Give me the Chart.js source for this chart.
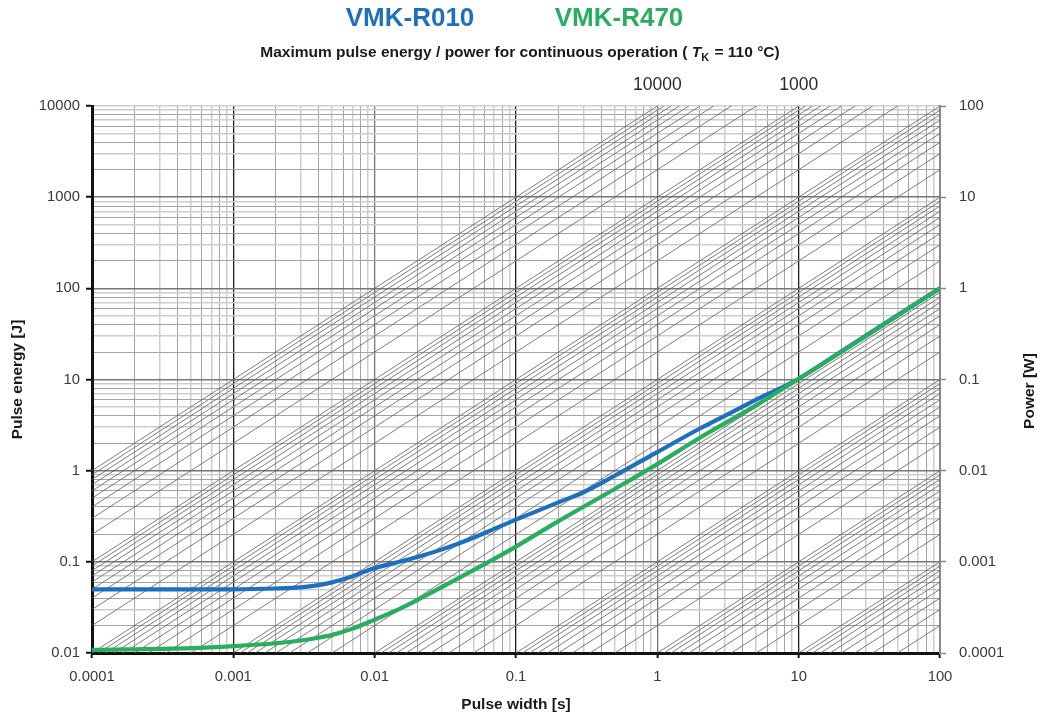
<!DOCTYPE html>
<html>
<head>
<meta charset="utf-8">
<script src="https://cdn.jsdelivr.net/npm/chart.js@4.4.1/dist/chart.umd.min.js"></script>
<style>
html, body { margin: 0; padding: 0; background: #ffffff; }
#wrap { width: 1040px; height: 714px; position: relative; }
</style>
</head>
<body>
<div id="wrap"><canvas id="c" width="1040" height="714"></canvas></div>
<script>
// ---------------- data ----------------
const seriesNames = ['VMK-R010', 'VMK-R470'];
const seriesColors = ['#1f70bc', '#29ad5f'];

const r010Width  = [0.0001, 0.0005, 0.001, 0.002, 0.003, 0.004, 0.005, 0.006, 0.007, 0.008, 0.01, 0.012, 0.015, 0.02, 0.03, 0.05, 0.07, 0.1, 0.2, 0.3, 0.5, 1, 2, 3, 5, 10, 20, 50, 100];
const r010Energy = [0.05, 0.05, 0.05, 0.051, 0.0525, 0.0555, 0.0595, 0.0645, 0.0695, 0.0755, 0.0855, 0.092, 0.1, 0.113, 0.137, 0.184, 0.23, 0.29, 0.45, 0.58, 0.88, 1.6, 2.9, 4.0, 6.0, 10.2, 20.3, 50.5, 100];

const r470Width  = [0.0001, 0.0005, 0.001, 0.002, 0.003, 0.004, 0.005, 0.007, 0.01, 0.015, 0.02, 0.03, 0.05, 0.1, 0.2, 0.5, 1, 2, 5, 10, 20, 50, 100];
const r470Energy = [0.0108, 0.0113, 0.0119, 0.0128, 0.0137, 0.0147, 0.0158, 0.0185, 0.0232, 0.0305, 0.038, 0.053, 0.081, 0.147, 0.28, 0.63, 1.18, 2.3, 5.2, 10.2, 20, 50, 100];

const pulseWidthTickLabels = ['0.0001', '0.001', '0.01', '0.1', '1', '10', '100'];
const energyTickLabels     = ['0.01', '0.1', '1', '10', '100', '1000', '10000'];
const powerTickLabels      = ['0.0001', '0.001', '0.01', '0.1', '1', '10', '100'];
const topTickValues        = [1, 10];
const topTickLabels        = ['10000', '1000'];

// constant-power reference lines P [W] = decade x multiplier (E = P * t)
const powerLineDecades     = [0.0001, 0.001, 0.01, 0.1, 1, 10, 100, 1000, 10000];
const powerLineMultipliers = [1, 2, 3, 4, 5, 6, 7, 8, 9];
const powerLineMax         = 10000;
const gridMultipliers      = [1, 2, 3, 4, 5, 6, 7, 8, 9];

const titleMain   = 'Maximum pulse energy / power for continuous operation ( ';
const titleSymbol = 'T';
const titleSub    = 'K';
const titleTail   = ' = 110 °C)';
const xTitle = 'Pulse width [s]';
const yTitle = 'Pulse energy [J]';
const y2Title = 'Power [W]';

const X_MIN = 0.0001, X_MAX = 100, Y_MIN = 0.01, Y_MAX = 10000, P_MIN = 0.0001, P_MAX = 100;

// ---------------- helpers ----------------
const REG = '"Liberation Sans", Arial, Helvetica, sans-serif';
const TICK_SIZE = 14.8;

function expOf(v) { return Math.floor(Math.log10(v) + 1e-9); }
function mantOf(v) { return Math.round(v / Math.pow(10, expOf(v))); }
function logTicks(min, max, mults) {
  const out = [];
  for (let e = expOf(min); e <= expOf(max); e++) {
    for (const k of mults) {
      const v = parseFloat(k + 'e' + e);
      if (v < min * 0.999999 || v > max * 1.000001) continue;
      out.push({ value: v, major: k === 1 });
    }
  }
  return out;
}
function minorColor(v) { return mantOf(v) % 2 === 0 ? '#a4a4a4' : '#cdcdcd'; }
function minorWidth(v) { return mantOf(v) % 2 === 0 ? 1 : 1.5; }

function xGridColor(v) {
  const e = expOf(v), m = mantOf(v);
  if (m === 1) {
    if (e === expOf(X_MIN) || e === expOf(X_MAX)) return 'rgba(0,0,0,0)';
    return (e % 2 !== 0) ? '#1e1e1e' : '#777777';
  }
  return minorColor(v);
}
function xGridWidth(v) { return mantOf(v) === 1 ? 1.3 : minorWidth(v); }
function yGridColor(v) {
  const e = expOf(v), m = mantOf(v);
  if (m === 1) {
    if (e === expOf(Y_MIN)) return 'rgba(0,0,0,0)';
    if (e === expOf(Y_MAX)) return '#cfcfcf';
    return '#777777';
  }
  return minorColor(v);
}
function yGridWidth(v) { return mantOf(v) === 1 ? 1.5 : minorWidth(v); }

function xy(xs, ys) { return xs.map((x, i) => ({ x: x, y: ys[i] })); }

// ---------------- datasets ----------------
const datasets = [];
datasets.push({
  label: seriesNames[1], data: xy(r470Width, r470Energy),
  borderColor: seriesColors[1], borderWidth: 4.2, pointRadius: 0,
  cubicInterpolationMode: 'monotone', order: 0
});
datasets.push({
  label: seriesNames[0], data: xy(r010Width, r010Energy),
  borderColor: seriesColors[0], borderWidth: 4.2, pointRadius: 0,
  cubicInterpolationMode: 'monotone', order: 1
});
for (const d of powerLineDecades) {
  for (const k of powerLineMultipliers) {
    const p = d * k;
    if (p > powerLineMax * 1.000001) continue;
    datasets.push({
      label: 'P=' + p, data: [{ x: X_MIN, y: p * X_MIN }, { x: X_MAX, y: p * X_MAX }],
      borderColor: 'rgba(95,95,95,0.9)', borderWidth: 0.9, pointRadius: 0, order: 5
    });
  }
}

// ---------------- header plugin ----------------
const headerPlugin = {
  id: 'header',
  afterDraw(chart) {
    const ctx = chart.ctx;
    ctx.save();
    // series names
    ctx.font = 'bold 26px ' + REG;
    ctx.textBaseline = 'middle';
    ctx.textAlign = 'center';
    const nameX = [410, 619];
    seriesNames.forEach((n, i) => { ctx.fillStyle = seriesColors[i]; ctx.fillText(n, nameX[i], 19); });
    // subtitle
    ctx.fillStyle = '#1a1a1a';
    ctx.textAlign = 'left';
    ctx.textBaseline = 'alphabetic';
    const fMain = 'bold 15.5px ' + REG, fIt = 'italic bold 15.5px ' + REG, fSub = 'bold 11px ' + REG;
    ctx.font = fMain; const w1 = ctx.measureText(titleMain).width; const w4 = ctx.measureText(titleTail).width;
    ctx.font = fIt; const w2 = ctx.measureText(titleSymbol).width;
    ctx.font = fSub; const w3 = ctx.measureText(titleSub).width;
    let x = 520 - (w1 + w2 + w3 + w4 + 1) / 2; const base = 57;
    ctx.font = fMain; ctx.fillText(titleMain, x, base); x += w1;
    ctx.font = fIt; ctx.fillText(titleSymbol, x, base); x += w2;
    ctx.font = fSub; ctx.fillText(titleSub, x, base + 4); x += w3 + 1;
    ctx.font = fMain; ctx.fillText(titleTail, x, base);
    // right axis title (reads bottom-to-top)
    ctx.translate(1030, 391);
    ctx.rotate(-Math.PI / 2);
    ctx.textAlign = 'center';
    ctx.textBaseline = 'middle';
    ctx.font = 'bold 15.5px ' + REG;
    ctx.fillText(y2Title, 0, 0);
    ctx.restore();
  }
};

// ---------------- chart ----------------
new Chart(document.getElementById('c'), {
  type: 'line',
  data: { datasets: datasets },
  plugins: [headerPlugin],
  options: {
    responsive: false,
    devicePixelRatio: 1,
    animation: false,
    events: [],
    layout: { padding: 0 },
    plugins: { legend: { display: false }, title: { display: false }, tooltip: { enabled: false } },
    scales: {
      x: {
        type: 'logarithmic', position: 'bottom', min: X_MIN, max: X_MAX,
        afterBuildTicks: (a) => { a.ticks = logTicks(X_MIN, X_MAX, gridMultipliers); },
        afterFit: (a) => { a.height = 61; },
        ticks: {
          autoSkip: false, maxRotation: 0, padding: 10, color: '#3a3a3a',
          font: { family: REG, size: TICK_SIZE },
          callback: (v) => mantOf(v) === 1 ? pulseWidthTickLabels[expOf(v) - expOf(X_MIN)] : ''
        },
        grid: {
          color: (c) => xGridColor(c.tick.value),
          lineWidth: (c) => xGridWidth(c.tick.value),
          drawTicks: true, tickLength: 5,
          tickColor: (c) => mantOf(c.tick.value) === 1 ? '#111111' : 'rgba(0,0,0,0)',
          tickWidth: 2
        },
        border: { display: true, color: '#111111', width: 3 },
        title: { display: true, text: xTitle, color: '#1a1a1a', font: { family: REG, size: 15.5, weight: 'bold' }, padding: { top: 0, bottom: 0 } }
      },
      x2: {
        type: 'logarithmic', position: 'top', min: X_MIN, max: X_MAX,
        afterBuildTicks: (a) => { a.ticks = topTickValues.map(v => ({ value: v })); },
        afterFit: (a) => { a.height = 106; },
        ticks: {
          autoSkip: false, maxRotation: 0, padding: 10, color: '#2a2a2a',
          font: { family: REG, size: 17.5 },
          callback: (v, i) => topTickLabels[i]
        },
        grid: { display: false, drawTicks: false },
        border: { display: false }
      },
      y: {
        type: 'logarithmic', position: 'left', min: Y_MIN, max: Y_MAX,
        afterBuildTicks: (a) => { a.ticks = logTicks(Y_MIN, Y_MAX, gridMultipliers); },
        afterFit: (a) => { a.width = 92; },
        ticks: {
          autoSkip: false, padding: 6, color: '#3a3a3a',
          font: { family: REG, size: TICK_SIZE },
          callback: (v) => mantOf(v) === 1 ? energyTickLabels[expOf(v) - expOf(Y_MIN)] : ''
        },
        grid: {
          color: (c) => yGridColor(c.tick.value),
          lineWidth: (c) => yGridWidth(c.tick.value),
          drawTicks: true, tickLength: 6,
          tickColor: (c) => mantOf(c.tick.value) === 1 ? '#111111' : 'rgba(0,0,0,0)',
          tickWidth: 2
        },
        border: { display: true, color: '#111111', width: 3 },
        title: { display: true, text: yTitle, color: '#1a1a1a', font: { family: REG, size: 15.5, weight: 'bold' }, padding: { top: 8, bottom: 0 } }
      },
      y2: {
        type: 'logarithmic', position: 'right', min: P_MIN, max: P_MAX,
        afterBuildTicks: (a) => { a.ticks = logTicks(P_MIN, P_MAX, [1]); },
        afterFit: (a) => { a.width = 100; },
        ticks: {
          autoSkip: false, padding: 13, color: '#3a3a3a',
          font: { family: REG, size: TICK_SIZE },
          callback: (v) => powerTickLabels[expOf(v) - expOf(P_MIN)]
        },
        grid: { drawOnChartArea: false, drawTicks: true, tickLength: 6, tickColor: '#8a8a8a', tickWidth: 1.5 },
        border: { display: true, color: '#8a8a8a', width: 2 }
      }
    }
  }
});
</script>
</body>
</html>
